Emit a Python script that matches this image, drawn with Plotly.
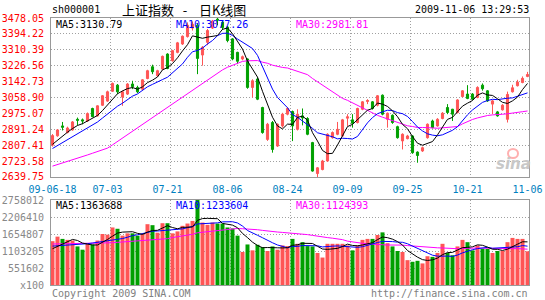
import plotly.graph_objects as go
import pandas as pd

# ---------------- data ----------------
date_labels = ["09-06-18", "07-03", "07-21", "08-06", "08-24", "09-09", "09-25", "10-21", "11-06"]
date_label_idx = [0, 11, 23, 35, 47, 59, 71, 83, 95]

opens = [2808, 2857, 2909, 2874, 2888, 2944, 2941, 2935, 3001, 2962,
         3018, 3040, 3092, 3124, 3061, 3077, 3130, 3112, 3103, 3159,
         3221, 3174, 3209, 3288, 3253, 3297, 3341, 3380, 3425, 3440,
         3283, 3350, 3425, 3472, 3456, 3430, 3368, 3297, 3262, 3262,
         3112, 3156, 3006, 2838, 2927, 2803, 2909, 2971, 2985, 2891,
         2962, 2948, 2821, 2658, 2679, 2724, 2847, 2865, 2856, 2950,
         2941, 2927, 2997, 3038, 3036, 3018, 3071, 2944, 2965, 2905,
         2830, 2842, 2856, 2771, 2777, 2847, 2935, 2909, 2948, 3006,
         2997, 2980, 3064, 3077, 3077, 3059, 3124, 3094, 3024, 2983,
         2994, 2944, 3089, 3121, 3138, 3170]
highs = [2866, 2892, 2930, 2905, 2935, 2953, 2948, 2980, 3005, 3018,
         3072, 3095, 3138, 3130, 3095, 3135, 3147, 3121, 3156, 3205,
         3232, 3205, 3280, 3292, 3310, 3352, 3386, 3455, 3460, 3450,
         3330, 3420, 3468, 3478.05, 3462, 3435, 3372, 3300, 3280, 3265,
         3155, 3165, 3010, 2925, 2935, 2922, 2978, 3008, 2990, 2997,
         3001, 2955, 2825, 2692, 2730, 2870, 2880, 2930, 2946, 2971,
         2971, 3005, 3040, 3050, 3040, 3072, 3075, 2980, 2970, 2910,
         2870, 2862, 2860, 2775, 2800, 2922, 2942, 2950, 2982, 3024,
         2999, 3050, 3098, 3124, 3082, 3118, 3133, 3098, 3046, 2988,
         3024, 3090, 3126, 3152, 3170, 3194]
lows = [2800, 2852, 2885, 2870, 2884, 2912, 2918, 2930, 2955, 2958,
        3014, 3036, 3088, 3077, 3015, 3072, 3103, 3082, 3098, 3155,
        3182, 3168, 3205, 3208, 3248, 3292, 3336, 3375, 3412, 3182,
        3227, 3335, 3420, 3440, 3415, 3350, 3255, 3235, 3255, 3105,
        3059, 3045, 2868, 2830, 2768, 2798, 2900, 2965, 2829, 2885,
        2912, 2860, 2668, 2639.75, 2675, 2720, 2842, 2860, 2852, 2909,
        2900, 2922, 2992, 3024, 2995, 3012, 2965, 2900, 2920, 2842,
        2785, 2838, 2762, 2715, 2772, 2842, 2896, 2905, 2944, 2971,
        2935, 2975, 3060, 3050, 3045, 3055, 3095, 3036, 2971, 2958,
        2990, 2927, 3085, 3117, 3134, 3166]
closes = [2858, 2888, 2902, 2898, 2930, 2939, 2935, 2974, 2958, 3015,
          3068, 3089, 3133, 3089, 3089, 3130, 3116, 3089, 3152, 3200,
          3195, 3200, 3276, 3212, 3306, 3347, 3382, 3440, 3445, 3265,
          3324, 3412, 3462, 3466, 3428, 3359, 3262, 3250, 3274, 3112,
          3147, 3050, 2874, 2918, 2785, 2918, 2971, 3001, 2909, 2971,
          2951, 2865, 2671, 2688, 2724, 2865, 2874, 2891, 2941, 2957,
          2923, 3001, 3036, 3043, 3001, 3068, 2971, 2976, 2927, 2847,
          2865, 2856, 2768, 2753, 2794, 2918, 2900, 2944, 2976, 2980,
          2971, 3046, 3094, 3054, 3050, 3112, 3105, 3041, 3041, 2962,
          3018, 3075, 3110, 3140, 3160, 3180]
volumes = [1421400, 1569900, 1495700, 1463900, 1442600, 1251700, 1145600, 1336500, 1315300, 1442600,
           1654800, 1633600, 1866900, 1824500, 1601700, 1676000, 1676000, 1601700, 1654800, 1973000,
           1941200, 1697200, 2004800, 2004800, 1676000, 1739600, 1920000, 1994200, 2079100, 2758012,
           2026100, 1951800, 2026100, 1994200, 1994200, 1866900, 1835100, 1601700, 1071300, 1315300,
           1124400, 1304700, 1230400, 1103200, 1251700, 1145600, 1283500, 1262300, 1495700, 1336500,
           1389600, 1262300, 1251700, 1039500, 891000, 1336500, 1336500, 1336500, 1336500, 1283500,
           1124400, 1283500, 1463900, 1495700, 1495700, 1623000, 1707800, 1357800, 1251700, 1103200,
           1071300, 806100, 753100, 784900, 700100, 933400, 912200, 1039500, 1336500, 1039500,
           965300, 1251700, 1463900, 1389600, 1124400, 1283500, 1177400, 1177400, 1039500, 1103200,
           1103200, 1389600, 1527500, 1495700, 1495700, 1092600]

# moving-average values visible before the window has filled
ma5_head = [2812, 2835, 2856, 2876]
ma10_head = [2790, 2805, 2820, 2836, 2851, 2866, 2881, 2896, 2912]
ma30_head = [2697, 2705, 2713, 2722, 2731, 2739, 2748, 2756, 2765, 2774,
             2783, 2792, 2809, 2827, 2845, 2862, 2880, 2898, 2916, 2934,
             2951, 2969, 2987, 3005, 3024, 3043, 3062, 3080, 3099]
vma5_head = [1177000, 1252000, 1337000, 1411000]
vma10_head = [1262000, 1270000, 1280000, 1290000, 1300000, 1312000, 1325000, 1340000, 1362000]
vma30_head = [1330000, 1332000, 1334000, 1335000, 1336000, 1337000, 1336000, 1338000, 1340000, 1345000,
              1350000, 1360000, 1372000, 1384000, 1395000, 1405000, 1415000, 1425000, 1435000, 1447000,
              1460000, 1473000, 1488000, 1503000, 1540000, 1565000, 1590000, 1618000, 1645000]

price_ticks = [2639.75, 2723.58, 2807.41, 2891.24, 2975.07, 3058.90, 3142.73, 3226.56, 3310.39, 3394.22, 3478.05]
vol_ticks = [0, 551602, 1103205, 1654807, 2206410, 2758012]
vol_tick_text = ["x100", "551602", "1103205", "1654807", "2206410", "2758012"]

title_code = "sh000001"
title_text = "上证指数\u00a0\u00a0\u00a0-\u00a0\u00a0\u00a0\u00a0日K线图"
timestamp = "2009-11-06 13:29:53"
price_ma_text = ["MA5:3130.79", "MA10:3077.26", "MA30:2981.81"]
vol_ma_text = ["MA5:1363688", "MA10:1233604", "MA30:1124393"]
copyright_text = "Copyright 2009 SINA.COM"
url_text = "http://finance.sina.com.cn"


def moving_avg(values, n, head):
    rolled = pd.Series(values, dtype=float).rolling(n).mean().tolist()
    return list(head) + rolled[len(head):]


idx = list(range(len(closes)))
ma5 = moving_avg(closes, 5, ma5_head)
ma10 = moving_avg(closes, 10, ma10_head)
ma30 = moving_avg(closes, 30, ma30_head)
vma5 = moving_avg(volumes, 5, vma5_head)
vma10 = moving_avg(volumes, 10, vma10_head)
vma30 = moving_avg(volumes, 30, vma30_head)

# ---------------- styling ----------------
W, H = 545, 300
ML, MR, MT, MB = 51, 16, 18, 15
RED = "#ff5555"
GREEN = "#00a000"
MONO = "DejaVu Sans Mono"
GRID = "#a0a0a0"
BORDER = "#999999"

plot_h = H - MT - MB
main_dom = [(285 - 177) / plot_h, 1.0]
vol_dom = [0.0, (285 - 200) / plot_h]
grid_x = [11.6, 23.6, 35.6, 47.6, 59.6, 71.6, 83.6]


def px(x):
    return (x - ML) / (W - ML - MR)


def py(y):
    return (H - MB - y) / plot_h


bar_colors = [RED if c >= o else GREEN for o, c in zip(opens, closes)]

fig = go.Figure()
fig.add_trace(go.Candlestick(
    x=idx, open=opens, high=highs, low=lows, close=closes,
    increasing=dict(line=dict(color=RED, width=1), fillcolor=RED),
    decreasing=dict(line=dict(color=GREEN, width=1), fillcolor=GREEN),
    whiskerwidth=0, xaxis="x", yaxis="y", showlegend=False, hoverinfo="skip"))
for series, col in [(ma30, "#ff00ff"), (ma10, "#0000ff"), (ma5, "#000000")]:
    fig.add_trace(go.Scatter(x=idx, y=series, mode="lines", line=dict(color=col, width=1),
                             xaxis="x", yaxis="y", showlegend=False, hoverinfo="skip"))
fig.add_trace(go.Bar(x=idx, y=volumes, marker=dict(color=bar_colors, line=dict(width=0)),
                     width=0.8, xaxis="x2", yaxis="y2", showlegend=False, hoverinfo="skip"))
for series, col in [(vma30, "#ff00ff"), (vma10, "#0000ff"), (vma5, "#000000")]:
    fig.add_trace(go.Scatter(x=idx, y=series, mode="lines", line=dict(color=col, width=1),
                             xaxis="x2", yaxis="y2", showlegend=False, hoverinfo="skip"))

xcommon = dict(range=[-0.3, 95.3], showgrid=False, zeroline=False, showline=True,
               linecolor=BORDER, linewidth=1, mirror=True, ticks="",
               minor=dict(tickvals=grid_x, showgrid=True, gridcolor=GRID,
                          griddash="1px,2px", gridwidth=1, ticks=""))
fig.update_layout(
    width=W, height=H, template="none",
    paper_bgcolor="white", plot_bgcolor="white",
    margin=dict(l=ML, r=MR, t=MT, b=MB, pad=0),
    boxgap=0.4, bargap=0.2, showlegend=False,
    xaxis=dict(**xcommon, domain=[0, 1], anchor="y", tickmode="array",
               tickvals=date_label_idx, ticktext=date_labels,
               tickfont=dict(family=MONO, size=10, color="#0080c0"),
               ticklabelstandoff=3, rangeslider=dict(visible=False)),
    xaxis2=dict(**xcommon, domain=[0, 1], anchor="y2", matches="x", showticklabels=False),
    yaxis=dict(domain=main_dom, range=[2639.70, 3478.10], tickmode="array",
               tickvals=price_ticks, ticktext=[f"{v:.2f}" for v in price_ticks],
               tickfont=dict(family=MONO, size=10, color="#ff0000"),
               showgrid=True, gridcolor=GRID, griddash="1px,2px", gridwidth=1,
               zeroline=False, showline=True, linecolor=BORDER, mirror=True,
               ticks="", ticklabelstandoff=4, automargin=False),
    yaxis2=dict(domain=vol_dom, range=[-1, 2758020], tickmode="array",
                tickvals=vol_ticks, ticktext=vol_tick_text,
                tickfont=dict(family=MONO, size=10, color="#888888"),
                showgrid=True, gridcolor=GRID, griddash="1px,2px", gridwidth=1,
                zeroline=False, showline=True, linecolor=BORDER, mirror=True,
                ticks="", ticklabelstandoff=4, automargin=False),
    font=dict(family=MONO, size=10, color="#000000"),
)

ann = []


def text(x, y, s, color="#000000", size=10, family=MONO, xanchor="left"):
    ann.append(dict(x=px(x), y=py(y), xref="paper", yref="paper", text=s, showarrow=False,
                    xanchor=xanchor, yanchor="middle",
                    font=dict(family=family, size=size, color=color)))


text(50, 10, title_code)
text(120, 10, title_text, size=13, family="Noto Sans CJK SC")
text(531, 10, timestamp, xanchor="right")
ma_cols = ["#000000", "#0000ff", "#ff00ff"]
for k, (s, c) in enumerate(zip(price_ma_text, ma_cols)):
    text(54 + 120 * k, 24, s, c)
for k, (s, c) in enumerate(zip(vol_ma_text, ma_cols)):
    text(54 + 120 * k, 206, s, c)
text(50, 293, copyright_text, "#808080")
text(530, 293, url_text, "#808080", xanchor="right")
# sina watermark
text(513, 164, "<i><b>sina</b></i>", "#c8c8c8", size=15, family="DejaVu Sans", xanchor="center")
fig.update_layout(annotations=ann)
fig.add_shape(type="circle", xref="paper", yref="paper",
              x0=px(508), x1=px(518), y0=py(158), y1=py(149),
              line=dict(color="#ffb0b0", width=2), layer="above")

fig.write_html("out.html")
